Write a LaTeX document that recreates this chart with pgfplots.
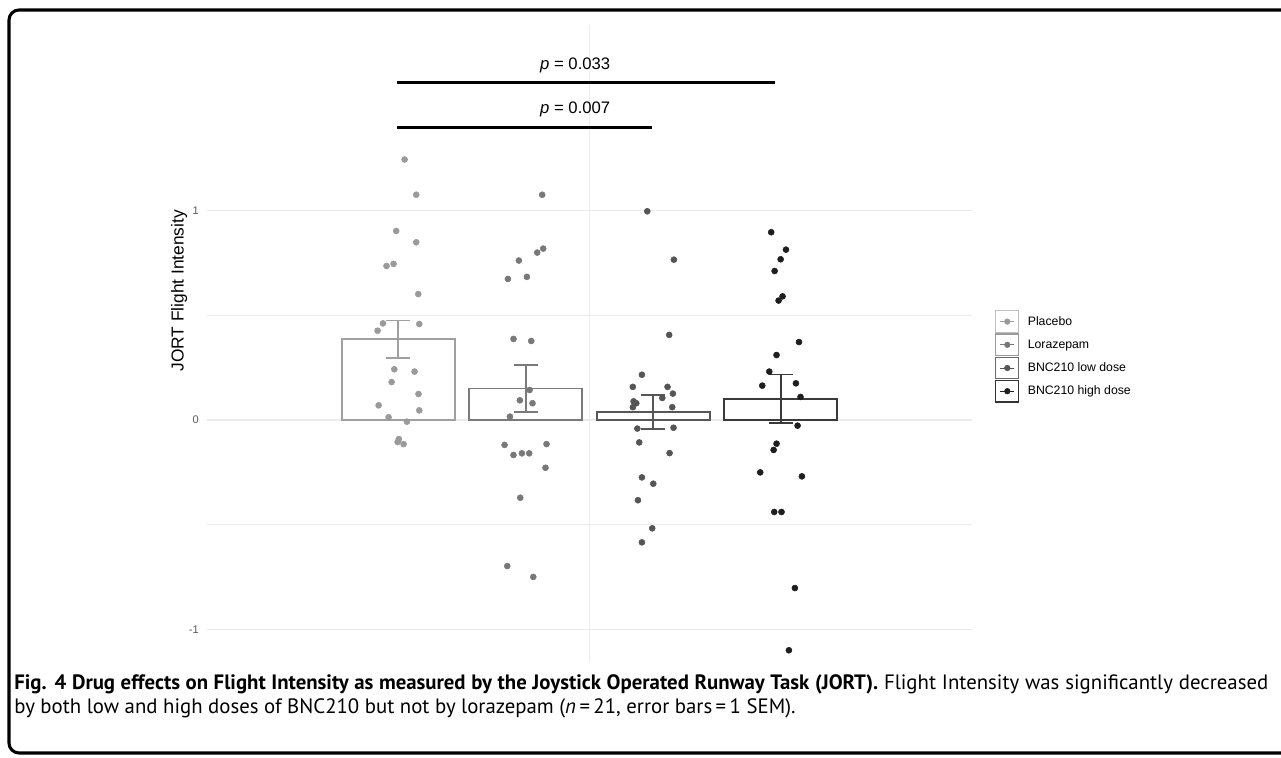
\documentclass[border=0pt]{standalone}
\usepackage{fontspec}
\setmainfont{Liberation Sans}
\newfontfamily\capfont{PT Sans}
\usepackage{pgfplots}
\pgfplotsset{compat=1.18}
\definecolor{p1}{HTML}{9A9A9A}
\definecolor{p2}{HTML}{787878}
\definecolor{p3}{HTML}{555555}
\definecolor{p4}{HTML}{1E1E1E}
\definecolor{b1}{HTML}{A0A0A0}
\definecolor{b2}{HTML}{7A7A7A}
\definecolor{b3}{HTML}{575757}
\definecolor{b4}{HTML}{3A3A3A}
\definecolor{l1}{HTML}{C0C0C0}
\definecolor{l2}{HTML}{9A9A9A}
\definecolor{l3}{HTML}{6A6A6A}
\definecolor{l4}{HTML}{333333}
\definecolor{gridc}{HTML}{EBEBEB}
\newcommand{\legimg}[2]{%
  \path[draw=none, fill=none] (0pt,0pt) rectangle (22pt,0.1pt);
  \draw[draw=#1, line width=0.8pt, fill=white] (0pt,-8.1pt) rectangle (17.25pt,8.1pt);
  \draw[#2, line width=0.7pt] (3.5pt,0pt) -- (13.75pt,0pt);
  \fill[#2] (8.6pt,0pt) circle (2.1pt);}
\pgfplotsset{
  sembar/.style={ybar, bar width=0.886, bar shift=0pt, draw=#1, fill=white, line width=1.4pt, forget plot,
    error bars/.cd, y dir=both, y explicit, error mark=|,
    error bar style={line width=1.4pt, draw=#1},
    error mark options={line width=1.4pt, draw=#1, mark size=9pt}},
}
\begin{document}
\begin{tikzpicture}
\useasboundingbox (0,0) rectangle (960.75pt,-567.75pt);
\begin{scope}[x=0.75pt,y=-0.75pt]
\clip (0,0) rectangle (1281,757);
\draw[line width=2.3pt, rounded corners=7.5pt] (9,10) rectangle (1300,753);
\node[anchor=base west, inner sep=0pt, font=\capfont\fontsize{15.6}{18}\selectfont] at (14,689)
  {\makebox[940.5pt][s]{\textbf{Fig. 4 Drug effects on Flight Intensity as measured by the Joystick Operated Runway Task (JORT).} Flight Intensity was significantly decreased}};
\node[anchor=base west, inner sep=0pt, font=\capfont\fontsize{15.6}{18}\selectfont] at (14,713)
  {by both low and high doses of BNC210 but not by lorazepam (\textit{n}\,=\,21, error bars\,=\,1 SEM).};
\end{scope}
\begin{axis}[
  at={(155.25pt,-496.5pt)}, anchor=south west,
  scale only axis, width=573.75pt, height=477.75pt,
  xmin=-0.5, xmax=5.5, ymin=-1.155, ymax=1.885,
  axis line style={draw=none},
  major tick length=0pt,
  xtick={2.5}, xticklabels={},
  ytick={-1,-0.5,0,0.5,1}, yticklabels={-1,,0,,1},
  xmajorgrids, ymajorgrids,
  grid style={draw=gridc, line width=0.9pt},
  /pgf/number format/assume math mode=true,
  yticklabel style={font=\fontsize{8.3}{10}\selectfont, text=black!65, anchor=east, inner sep=0pt, xshift=-6pt},
  clip=false,
  legend style={draw=none, fill=none, at={(1.0301,0.5526)}, anchor=north west,
    font=\fontsize{9.2}{11}\selectfont, row sep=0.4pt, inner sep=0pt,
    nodes={inner sep=2pt}},
  legend cell align=left,
]
% bars with SEM
\addplot[sembar=b1] coordinates {(1,0.385) +- (0,0.09)};
\addplot[sembar=b2] coordinates {(2,0.150) +- (0,0.112)};
\addplot[sembar=b3] coordinates {(3,0.038) +- (0,0.082)};
\addplot[sembar=b4] coordinates {(4,0.102) +- (0,0.115)};
% individual points
\addplot[only marks, mark=*, mark size=2.25pt, color=p1, mark options={draw=p1, fill=p1},
  legend image code/.code={\legimg{l1}{p1}}]
  coordinates {(1.05,1.243) (1.141,1.075) (0.984,0.902) (1.141,0.848) (0.908,0.735) (0.963,0.745) (1.157,0.601) (0.88,0.461) (1.165,0.458) (0.838,0.426) (0.969,0.242) (1.128,0.231) (0.948,0.181) (1.159,0.124) (0.846,0.070) (1.165,0.046) (0.924,0.013) (1.068,-0.008) (1.005,-0.091) (0.995,-0.105) (1.042,-0.115)};
\addlegendentry{Placebo}
\addplot[only marks, mark=*, mark size=2.25pt, color=p2, mark options={draw=p2, fill=p2},
  legend image code/.code={\legimg{l2}{p2}}]
  coordinates {(2.129,1.075) (2.137,0.818) (2.09,0.799) (1.946,0.761) (1.86,0.673) (2.009,0.683) (1.904,0.387) (2.043,0.377) (2.03,0.143) (1.954,0.094) (2.053,0.080) (1.876,0.016) (1.834,-0.119) (2.163,-0.115) (1.904,-0.167) (1.97,-0.159) (2.027,-0.159) (2.155,-0.228) (1.957,-0.371) (1.855,-0.697) (2.059,-0.749)};
\addlegendentry{Lorazepam}
\addplot[only marks, mark=*, mark size=2.25pt, color=p3, mark options={draw=p3, fill=p3},
  legend image code/.code={\legimg{l3}{p3}}]
  coordinates {(2.953,0.996) (3.162,0.765) (3.125,0.406) (2.911,0.216) (2.84,0.158) (3.112,0.158) (3.154,0.126) (3.071,0.105) (2.846,0.089) (2.867,0.080) (2.84,0.061) (3.149,0.061) (2.875,-0.041) (3.159,-0.037) (2.89,-0.107) (3.128,-0.158) (2.911,-0.274) (3.0,-0.304) (2.88,-0.383) (2.992,-0.517) (2.911,-0.584)};
\addlegendentry{BNC210 low dose}
\addplot[only marks, mark=*, mark size=2.25pt, color=p4, mark options={draw=p4, fill=p4},
  legend image code/.code={\legimg{l4}{p4}}]
  coordinates {(3.925,0.896) (4.041,0.813) (3.999,0.767) (3.952,0.711) (4.014,0.590) (3.983,0.570) (4.143,0.372) (3.967,0.310) (3.91,0.231) (4.119,0.175) (3.855,0.164) (4.155,0.110) (4.132,-0.027) (3.967,-0.113) (3.944,-0.143) (3.839,-0.250) (4.166,-0.269) (3.949,-0.439) (4.006,-0.439) (4.111,-0.802) (4.064,-1.099)};
\addlegendentry{BNC210 high dose}
% significance bars
\addplot[black, line width=2.25pt, forget plot] coordinates {(0.992,1.609) (3.957,1.609)};
\addplot[black, line width=2.25pt, forget plot] coordinates {(0.992,1.394) (2.992,1.394)};
\node[anchor=base, font=\fontsize{12.5}{14}\selectfont] at (axis cs:2.388,1.674) {\textit{p} = 0.033};
\node[anchor=base, font=\fontsize{12.5}{14}\selectfont] at (axis cs:2.388,1.461) {\textit{p} = 0.007};
\node[rotate=90, font=\fontsize{13}{15}\selectfont] at (axis cs:-0.718,0.616) {JORT Flight Intensity};
\end{axis}
\end{tikzpicture}
\end{document}
